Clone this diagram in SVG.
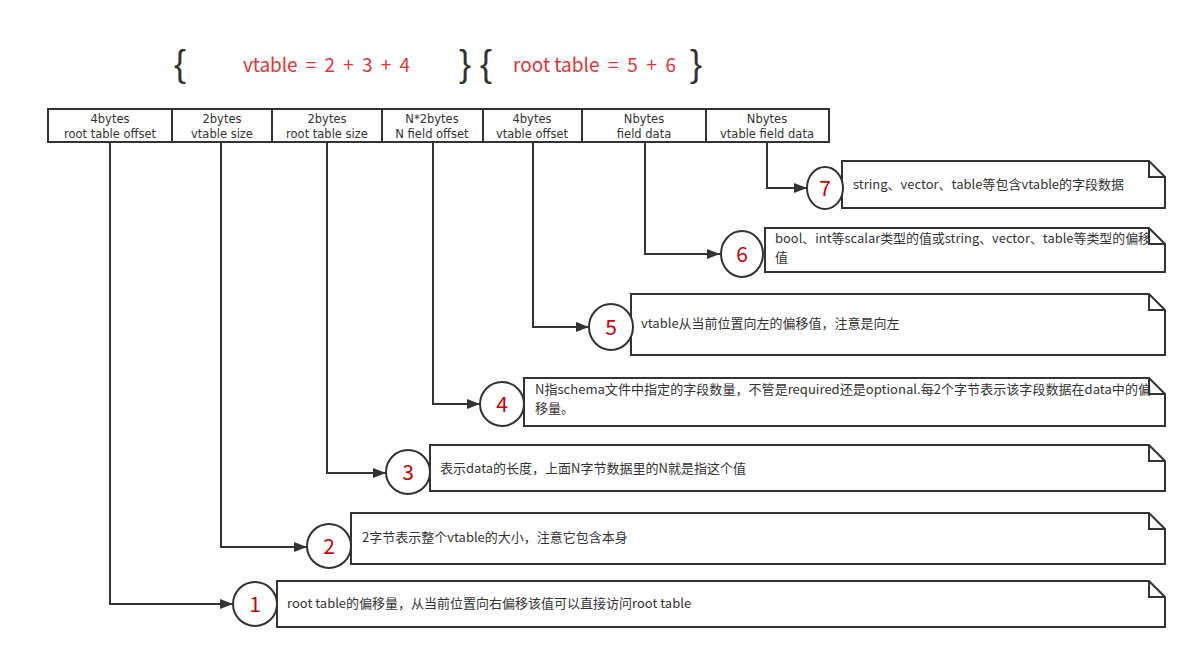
<svg xmlns="http://www.w3.org/2000/svg" width="1197" height="658" viewBox="0 0 1197 658">
<defs>
<marker id="arr" markerWidth="14" markerHeight="10" refX="13" refY="5" orient="auto" markerUnits="userSpaceOnUse">
<path d="M0,0 L13,5 L0,10 Z" fill="#333"/>
</marker>
<style>
.cell{fill:#fff;stroke:#333;stroke-width:2}
.ct{font-family:"DejaVu Sans","Noto Sans",sans-serif;font-size:11.5px;fill:#333;text-anchor:middle}
.note{fill:#fff;stroke:#333;stroke-width:2;stroke-linejoin:miter}
.nt{font-family:"Noto Sans CJK SC","Noto Sans",sans-serif;font-size:13px;fill:#333}
.circ{fill:#fff;stroke:#333;stroke-width:2}
.num{font-family:"Noto Sans CJK SC","Noto Sans",sans-serif;font-size:21px;fill:#cc0000;text-anchor:middle}
.con{fill:none;stroke:#333;stroke-width:2;marker-end:url(#arr)}
.hd{font-family:"Noto Sans CJK SC","Noto Sans",sans-serif;font-size:19px;fill:#e53333;white-space:pre}
.br{font-family:"Liberation Sans","DejaVu Sans",sans-serif;font-size:36px;fill:#333}
</style>
</defs>
<rect width="1197" height="658" fill="#fff"/>

<g id="header">
<text class="br" x="174" y="76">{</text>
<text class="hd" x="243" y="72" textLength="167" lengthAdjust="spacing" xml:space="preserve">vtable  =  2  +  3  +  4</text>
<text class="br" x="459" y="76">}</text>
<text class="br" x="480" y="76">{</text>
<text class="hd" x="513" y="72" textLength="163" lengthAdjust="spacing" xml:space="preserve">root table  =  5  +  6</text>
<text class="br" x="690" y="76">}</text>
</g>

<g id="table">
<rect class="cell" x="48" y="109" width="124" height="33"/>
<rect class="cell" x="172" y="109" width="100" height="33"/>
<rect class="cell" x="272" y="109" width="110" height="33"/>
<rect class="cell" x="382" y="109" width="101" height="33"/>
<rect class="cell" x="483" y="109" width="99" height="33"/>
<rect class="cell" x="582" y="109" width="124" height="33"/>
<rect class="cell" x="706" y="109" width="123" height="33"/>
<text class="ct" x="110" y="123">4bytes</text><text class="ct" x="110" y="138">root table offset</text>
<text class="ct" x="222" y="123">2bytes</text><text class="ct" x="222" y="138">vtable size</text>
<text class="ct" x="327" y="123">2bytes</text><text class="ct" x="327" y="138">root table size</text>
<text class="ct" x="432" y="123">N*2bytes</text><text class="ct" x="432" y="138">N field offset</text>
<text class="ct" x="532" y="123">4bytes</text><text class="ct" x="532" y="138">vtable offset</text>
<text class="ct" x="644" y="123">Nbytes</text><text class="ct" x="644" y="138">field data</text>
<text class="ct" x="767" y="123">Nbytes</text><text class="ct" x="767" y="138">vtable field data</text>
</g>

<g id="connectors">
<path class="con" d="M110,142 V604 H233"/>
<path class="con" d="M221,142 V547 H307"/>
<path class="con" d="M327,142 V473 H386"/>
<path class="con" d="M433,142 V404 H480"/>
<path class="con" d="M533,142 V327 H589"/>
<path class="con" d="M645,142 V254 H720"/>
<path class="con" d="M767,142 V188 H807"/>
</g>

<g id="node1">
<path class="note" d="M277,581 H1149 L1165,597 V627 H277 Z M1149,581 V597 H1165"/>
<ellipse class="circ" cx="255" cy="604" rx="22" ry="22"/>
<text class="num" x="255" y="612">1</text>
<text class="nt" x="287" y="608">root table的偏移量，从当前位置向右偏移该值可以直接访问root table</text>
</g>
<g id="node2">
<path class="note" d="M351,513 H1149 L1165,529 V564 H351 Z M1149,513 V529 H1165"/>
<ellipse class="circ" cx="329" cy="546" rx="22" ry="22"/>
<text class="num" x="329" y="554">2</text>
<text class="nt" x="362" y="542">2字节表示整个vtable的大小，注意它包含本身</text>
</g>
<g id="node3">
<path class="note" d="M430,445 H1149 L1165,461 V491 H430 Z M1149,445 V461 H1165"/>
<ellipse class="circ" cx="408" cy="472" rx="22" ry="22"/>
<text class="num" x="408" y="480">3</text>
<text class="nt" x="440" y="473">表示data的长度，上面N字节数据里的N就是指这个值</text>
</g>
<g id="node4">
<path class="note" d="M524,378 H1149 L1165,394 V426 H524 Z M1149,378 V394 H1165"/>
<ellipse class="circ" cx="502" cy="404" rx="22" ry="22"/>
<text class="num" x="502" y="412">4</text>
<text class="nt" x="535" y="394" textLength="616" lengthAdjust="spacingAndGlyphs">N指schema文件中指定的字段数量，不管是required还是optional.每2个字节表示该字段数据在data中的偏</text>
<text class="nt" x="535" y="413">移量。</text>
</g>
<g id="node5">
<path class="note" d="M631,294 H1149 L1165,310 V355 H631 Z M1149,294 V310 H1165"/>
<ellipse class="circ" cx="611" cy="327" rx="22" ry="23"/>
<text class="num" x="611" y="335">5</text>
<text class="nt" x="641" y="328">vtable从当前位置向左的偏移值，注意是向左</text>
</g>
<g id="node6">
<path class="note" d="M765,228 H1149 L1165,244 V272 H765 Z M1149,228 V244 H1165"/>
<ellipse class="circ" cx="742" cy="254" rx="21" ry="23"/>
<text class="num" x="742" y="262">6</text>
<text class="nt" x="775" y="243" textLength="376" lengthAdjust="spacingAndGlyphs">bool、int等scalar类型的值或string、vector、table等类型的偏移</text>
<text class="nt" x="775" y="262">值</text>
</g>
<g id="node7">
<path class="note" d="M842,161 H1149 L1165,177 V208 H842 Z M1149,161 V177 H1165"/>
<ellipse class="circ" cx="825" cy="188" rx="18" ry="21"/>
<text class="num" x="825" y="196">7</text>
<text class="nt" x="853" y="189">string、vector、table等包含vtable的字段数据</text>
</g>
</svg>
